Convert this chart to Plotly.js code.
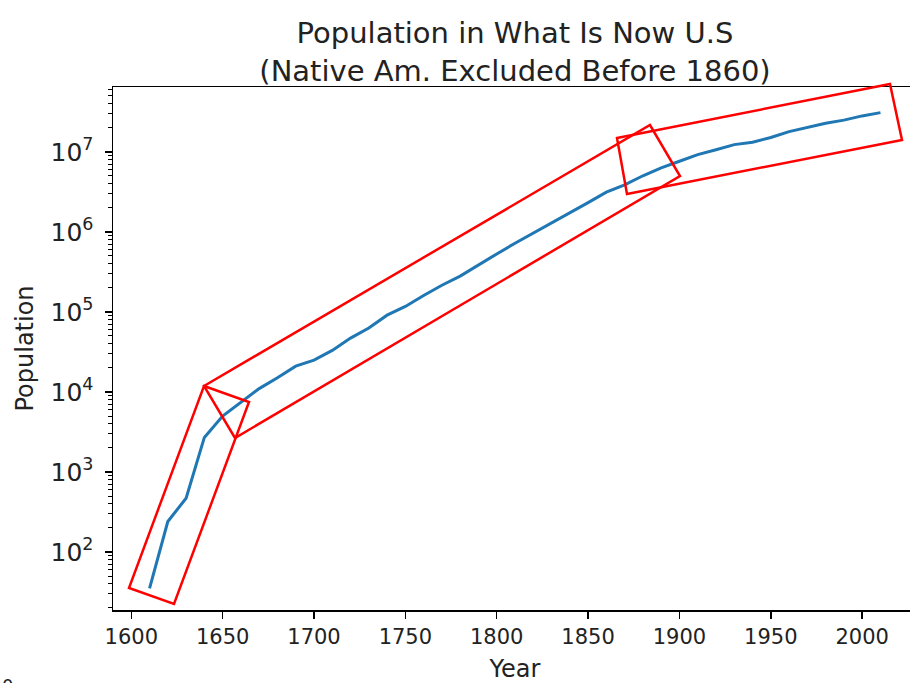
<!DOCTYPE html>
<html>
<head>
<meta charset="utf-8">
<script src="https://cdn.plot.ly/plotly-3.0.1.min.js"></script>
<style>
  html, body { margin: 0; padding: 0; overflow: hidden; background: #fff; }
  #chart { width: 925px; height: 683px; }
</style>
</head>
<body>
<div id="chart"></div>
<script>
// Census-style population series, one value per decade
const years = [1610, 1620, 1630, 1640, 1650, 1660, 1670, 1680, 1690, 1700,
               1710, 1720, 1730, 1740, 1750, 1760, 1770, 1780, 1790, 1800,
               1810, 1820, 1830, 1840, 1850, 1860, 1870, 1880, 1890, 1900,
               1910, 1920, 1930, 1940, 1950, 1960, 1970, 1980, 1990, 2000, 2010];
const population = [35, 240, 470, 2700, 5000, 7500, 11000, 15000, 21000, 25000,
                    33000, 47000, 63000, 91000, 117000, 160000, 215000, 280000, 390000, 530000,
                    720000, 960000, 1290000, 1710000, 2320000, 3140000, 3860000, 5020000, 6300000, 7620000,
                    9220000, 10600000, 12300000, 13200000, 15100000, 17900000, 20300000, 22700000, 24900000, 28100000, 30900000];

const xTicks = [1600, 1650, 1700, 1750, 1800, 1850, 1900, 1950, 2000];

// Figure geometry (pixels)
const FIG_W = 925, FIG_H = 683;
const M = { l: 113, r: 8, t: 87, b: 73 };
const PW = FIG_W - M.l - M.r, PH = FIG_H - M.t - M.b;
const toPaper = ([px, py]) => [(px - M.l) / PW, (FIG_H - M.b - py) / PH];

// Hand-drawn highlight boxes around the three growth phases (pixel corners)
const boxes = [
  [[204, 386], [249, 402], [174, 604], [129, 588]],
  [[204, 386], [650, 125], [680, 176], [235, 438]],
  [[617, 138], [890, 84], [902, 140], [627, 194]]
];
const shapes = boxes.map(b => ({
  type: 'path', xref: 'paper', yref: 'paper',
  path: b.map((p, i) => { const q = toPaper(p); return (i ? 'L' : 'M') + q[0].toFixed(5) + ',' + q[1].toFixed(5); }).join(' ') + ' Z',
  line: { color: '#ff0000', width: 2.5 },
  fillcolor: 'rgba(0,0,0,0)'
}));

const FONT = '"DejaVu Sans", Verdana, sans-serif';
const axisCommon = {
  showline: true, linecolor: '#000', linewidth: 1.5, mirror: true,
  ticks: 'outside', ticklen: 7, tickwidth: 1.5, tickcolor: '#000',
  showgrid: false, zeroline: false
};

const trace = {
  x: years, y: population, type: 'scatter', mode: 'lines',
  line: { color: '#1f77b4', width: 3 },
  hoverinfo: 'x+y'
};

const layout = {
  width: FIG_W, height: FIG_H,
  margin: M,
  paper_bgcolor: '#fff', plot_bgcolor: '#fff',
  showlegend: false,
  title: {
    text: 'Population in What Is Now U.S<br>(Native Am. Excluded Before 1860)',
    font: { family: FONT, size: 29, color: '#222' },
    x: 0.5, xref: 'paper', xanchor: 'center',
    y: 1 - 43 / FIG_H, yref: 'container', yanchor: 'middle'
  },
  xaxis: Object.assign({}, axisCommon, {
    range: [1590, 2030],
    tickmode: 'array', tickvals: xTicks, ticktext: xTicks.map(String),
    tickfont: { family: FONT, size: 21, color: '#222' },
    title: { text: 'Year', font: { family: FONT, size: 24, color: '#222' }, standoff: 17 }
  }),
  yaxis: Object.assign({}, axisCommon, {
    type: 'log',
    range: [1.275, 7.81],
    tickmode: 'linear', tick0: 0, dtick: 1,
    exponentformat: 'power',
    tickfont: { family: FONT, size: 20, color: '#222' },
    ticklabelstandoff: 7,
    minor: { ticks: 'outside', ticklen: 4, tickwidth: 1, tickcolor: '#000', dtick: 'D1', showgrid: false },
    title: { text: 'Population', font: { family: FONT, size: 24, color: '#222' }, standoff: 10 }
  }),
  shapes: shapes,
  annotations: [{
    text: '0', xref: 'paper', yref: 'paper', showarrow: false,
    x: toPaper([0, 0])[0], y: toPaper([0, 685])[1], xanchor: 'left', yanchor: 'middle',
    font: { family: FONT, size: 18, color: '#222' }
  }]
};

Plotly.newPlot('chart', [trace], layout, { displayModeBar: false, staticPlot: true });
</script>
</body>
</html>
